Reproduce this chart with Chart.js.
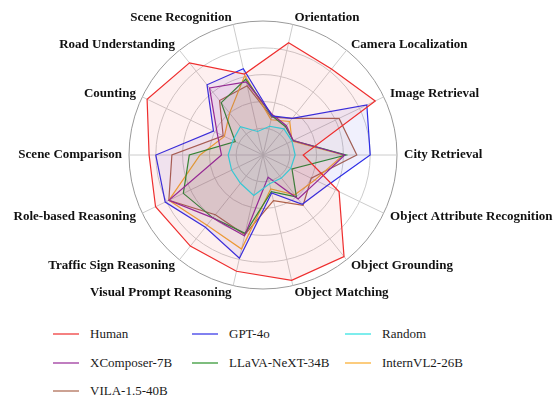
<!DOCTYPE html>
<html>
<head>
<meta charset="utf-8">
<script src="https://cdn.jsdelivr.net/npm/chart.js@4.4.1/dist/chart.umd.min.js"></script>
<style>
  html, body { margin: 0; padding: 0; background: #fff; overflow: hidden; }
  body { width: 559px; height: 403px; position: relative; }
  #radar { position: absolute; left: 0; top: 0; }
  .lg { position: absolute; font-family: 'Liberation Serif', serif; font-size: 13px; color: #1a1a1a; }
  .lg i { position: absolute; top: 7px; width: 26px; height: 2px; }
  .lg span { position: absolute; white-space: nowrap; line-height: 16px; }
</style>
</head>
<body>
<canvas id="radar" width="559" height="310"></canvas>
<div id="legend"></div>
<script>
// axes, clockwise starting from "Orientation"
const labels = ['Orientation', 'Camera Localization', 'Image Retrieval', 'City Retrieval',
    'Object Attribute Recognition', 'Object Grounding', 'Object Matching',
    'Visual Prompt Reasoning', 'Traffic Sign Reasoning', 'Role-based Reasoning',
    'Scene Comparison', 'Counting', 'Road Understanding', 'Scene Recognition'];

const human     = [0.86, 0.82, 0.93, 0.30, 0.63, 0.97, 0.96, 0.89, 0.87, 0.89, 0.85, 0.96, 0.88, 0.62];
const gpt4o     = [0.30, 0.35, 0.86, 0.80, 0.53, 0.47, 0.29, 0.79, 0.69, 0.81, 0.80, 0.41, 0.67, 0.66];
const random    = [0.22, 0.25, 0.24, 0.24, 0.23, 0.22, 0.22, 0.31, 0.27, 0.26, 0.26, 0.25, 0.27, 0.18];
const xcomposer = [0.31, 0.28, 0.25, 0.61, 0.45, 0.42, 0.17, 0.62, 0.60, 0.78, 0.31, 0.38, 0.64, 0.56];
const llava     = [0.30, 0.27, 0.25, 0.62, 0.24, 0.40, 0.28, 0.60, 0.60, 0.66, 0.55, 0.23, 0.50, 0.58];
const internvl  = [0.27, 0.32, 0.24, 0.60, 0.43, 0.38, 0.26, 0.72, 0.67, 0.78, 0.47, 0.32, 0.40, 0.61];
const vila      = [0.29, 0.35, 0.63, 0.70, 0.40, 0.48, 0.35, 0.61, 0.57, 0.78, 0.68, 0.33, 0.52, 0.53];

const series = [
    { name: 'Human',          data: human,     rgb: '238,45,45' },
    { name: 'GPT-4o',         data: gpt4o,     rgb: '45,45,230' },
    { name: 'Random',         data: random,    rgb: '40,225,225' },
    { name: 'XComposer-7B',   data: xcomposer, rgb: '150,40,150' },
    { name: 'LLaVA-NeXT-34B', data: llava,     rgb: '40,145,40' },
    { name: 'InternVL2-26B',  data: internvl,  rgb: '250,170,40' },
    { name: 'VILA-1.5-40B',   data: vila,      rgb: '170,100,75' }
];

// axis names sit vertically centred just outside the rim, left/right aligned by side
const outerLabels = {
    id: 'outerLabels',
    afterDraw(chart) {
        const scale = chart.scales.r;
        const ctx = chart.ctx;
        ctx.save();
        ctx.font = 'bold 13px "Liberation Serif"';
        ctx.fillStyle = '#111';
        ctx.textBaseline = 'middle';
        labels.forEach((text, i) => {
            const p = scale.getPointPosition(i, scale.drawingArea + 7);
            const dx = p.x - scale.xCenter;
            ctx.textAlign = Math.abs(dx) < 1 ? 'center' : (dx > 0 ? 'left' : 'right');
            ctx.fillText(text, p.x, p.y);
        });
        ctx.restore();
    }
};

new Chart(document.getElementById('radar').getContext('2d'), {
    type: 'radar',
    data: {
        labels: labels,
        datasets: series.map(s => ({
            label: s.name,
            data: s.data,
            borderColor: 'rgb(' + s.rgb + ')',
            backgroundColor: 'rgba(' + s.rgb + ',0.07)',
            borderWidth: 1.2,
            pointRadius: 0,
            fill: true
        }))
    },
    options: {
        responsive: false,
        animation: false,
        layout: { padding: { left: 0, right: 33, top: 21, bottom: 21 } },
        plugins: { legend: { display: false }, tooltip: { enabled: false } },
        scales: {
            r: {
                min: 0,
                max: 1,
                startAngle: 180 / 14,
                ticks: { display: false, stepSize: 0.2 },
                grid: {
                    circular: true,
                    color: ctx => ctx.index === 5 ? '#9a9a9a' : '#cccccc',
                    lineWidth: 1
                },
                angleLines: { color: '#cccccc', lineWidth: 1 },
                pointLabels: { display: false }
            }
        }
    },
    plugins: [outerLabels]
});

// legend, three columns
const cols = [53, 192, 345];
const rows = [326, 355, 383];
const legend = document.getElementById('legend');
series.forEach((s, i) => {
    const d = document.createElement('div');
    d.className = 'lg';
    d.style.left = cols[i % 3] + 'px';
    d.style.top = rows[Math.floor(i / 3)] + 'px';
    d.innerHTML = '<i style="background:rgba(' + s.rgb + ',0.6)"></i><span style="left:37px">' + s.name + '</span>';
    legend.appendChild(d);
});
</script>
</body>
</html>
